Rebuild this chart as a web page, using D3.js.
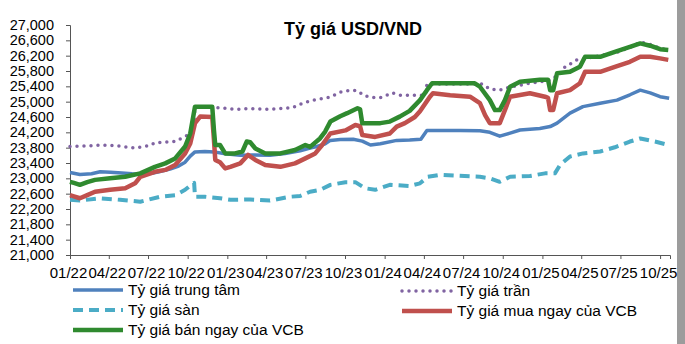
<!DOCTYPE html>
<html>
<head>
<meta charset="utf-8">
<script src="https://cdn.jsdelivr.net/npm/d3@7"></script>
<style>
  body { margin: 0; background: #fff; }
  svg { display: block; font-family: "Liberation Sans", Arial, sans-serif; }
</style>
</head>
<body>
<div id="chart"></div>
<script>
// ---- data ----
var title = "Tỷ giá USD/VND";

var yTicks = [21000, 21400, 21800, 22200, 22600, 23000, 23400, 23800,
              24200, 24600, 25000, 25400, 25800, 26200, 26600, 27000];

var xTicks = ["2022-01-01", "2022-04-01", "2022-07-01", "2022-10-01",
              "2023-01-01", "2023-04-01", "2023-07-01", "2023-10-01",
              "2024-01-01", "2024-04-01", "2024-07-01", "2024-10-01",
              "2025-01-01", "2025-04-01", "2025-07-01", "2025-10-01"];

// Tỷ giá trung tâm
var central = [
  ["2022-01-01", 23150], ["2022-01-24", 23100], ["2022-02-20", 23120], ["2022-03-12", 23170],
  ["2022-04-05", 23160], ["2022-05-01", 23140], ["2022-05-25", 23120], ["2022-06-20", 23110],
  ["2022-07-10", 23130], ["2022-07-29", 23180], ["2022-08-21", 23240], ["2022-09-10", 23320],
  ["2022-09-25", 23420], ["2022-10-07", 23580], ["2022-10-18", 23690], ["2022-11-10", 23700],
  ["2022-12-01", 23690], ["2022-12-27", 23640], ["2023-01-31", 23600], ["2023-03-01", 23610],
  ["2023-04-10", 23600], ["2023-05-15", 23650], ["2023-06-19", 23720], ["2023-07-12", 23790],
  ["2023-07-28", 23830], ["2023-08-16", 23900], ["2023-08-28", 23990], ["2023-09-20", 24010],
  ["2023-10-20", 24020], ["2023-11-10", 23970], ["2023-11-29", 23870], ["2023-12-22", 23900],
  ["2024-01-29", 23990], ["2024-02-28", 24000], ["2024-03-25", 24020], ["2024-04-08", 24250],
  ["2024-05-08", 24250], ["2024-06-24", 24250], ["2024-08-09", 24240], ["2024-09-01", 24200],
  ["2024-09-24", 24100], ["2024-10-18", 24180], ["2024-11-10", 24260], ["2024-12-26", 24300],
  ["2025-01-19", 24350], ["2025-02-04", 24440], ["2025-03-06", 24700], ["2025-04-05", 24870],
  ["2025-05-15", 24960], ["2025-06-23", 25040], ["2025-07-23", 25180], ["2025-08-16", 25300],
  ["2025-09-08", 25230], ["2025-10-01", 25130], ["2025-10-22", 25090]
];

// Tỷ giá trần
var ceiling = [
  ["2022-01-01", 23830], ["2022-02-15", 23850], ["2022-03-12", 23870], ["2022-04-20", 23850],
  ["2022-06-01", 23790], ["2022-07-06", 23860], ["2022-07-17", 23930], ["2022-09-02", 23960],
  ["2022-09-25", 24090], ["2022-10-14", 24200], ["2022-10-18", 24860], ["2022-11-10", 24870],
  ["2022-12-15", 24840], ["2023-01-19", 24800], ["2023-02-23", 24820], ["2023-04-10", 24800],
  ["2023-06-01", 24840], ["2023-06-25", 24960], ["2023-07-19", 25040], ["2023-08-28", 25120],
  ["2023-09-20", 25250], ["2023-10-13", 25300], ["2023-11-01", 25280], ["2023-11-12", 25170],
  ["2023-11-29", 25120], ["2023-12-14", 25095], ["2023-12-28", 25120], ["2024-01-18", 25230],
  ["2024-02-05", 25170], ["2024-03-08", 25170], ["2024-04-05", 25170], ["2024-04-08", 25460],
  ["2024-06-12", 25460], ["2024-08-14", 25460], ["2024-09-01", 25330], ["2024-09-24", 25300],
  ["2024-10-18", 25380], ["2024-12-03", 25480], ["2025-01-19", 25560], ["2025-02-11", 25730],
  ["2025-02-22", 25900], ["2025-03-22", 26090], ["2025-05-15", 26200], ["2025-06-23", 26290],
  ["2025-07-28", 26440], ["2025-08-16", 26560], ["2025-09-08", 26490], ["2025-10-01", 26390],
  ["2025-10-20", 26350]
];

// Tỷ giá sàn
var floorRate = [
  ["2022-01-01", 22440], ["2022-01-24", 22420], ["2022-03-12", 22480], ["2022-04-27", 22440],
  ["2022-06-13", 22390], ["2022-07-29", 22520], ["2022-09-02", 22560], ["2022-09-25", 22700],
  ["2022-10-11", 22850], ["2022-10-16", 22880], ["2022-10-18", 22520], ["2022-11-10", 22520],
  ["2022-12-15", 22480], ["2023-01-08", 22440], ["2023-02-23", 22450], ["2023-04-10", 22420],
  ["2023-05-27", 22520], ["2023-06-19", 22540], ["2023-07-12", 22650], ["2023-08-04", 22700],
  ["2023-08-28", 22830], ["2023-10-02", 22900], ["2023-10-25", 22900], ["2023-11-17", 22740],
  ["2023-12-10", 22700], ["2024-01-13", 22830], ["2024-02-28", 22800], ["2024-03-23", 22870],
  ["2024-04-10", 23040], ["2024-05-08", 23090], ["2024-06-12", 23070], ["2024-08-09", 23040],
  ["2024-09-01", 23000], ["2024-09-24", 22910], ["2024-10-18", 23040], ["2024-12-03", 23060],
  ["2025-01-07", 23130], ["2025-01-30", 23130], ["2025-02-11", 23350], ["2025-03-06", 23570],
  ["2025-04-05", 23650], ["2025-05-15", 23700], ["2025-06-18", 23810], ["2025-07-23", 23960],
  ["2025-08-16", 24040], ["2025-09-19", 23960], ["2025-10-20", 23870]
];

// Tỷ giá mua ngay của VCB
var vcbBuy = [
  ["2022-01-01", 22560], ["2022-01-10", 22530], ["2022-01-24", 22480], ["2022-02-10", 22560],
  ["2022-02-28", 22650], ["2022-04-04", 22700], ["2022-05-09", 22740], ["2022-06-01", 22870],
  ["2022-06-13", 23040], ["2022-07-17", 23170], ["2022-08-10", 23220], ["2022-09-02", 23350],
  ["2022-09-25", 23650], ["2022-10-07", 23910], ["2022-10-18", 24440], ["2022-10-30", 24610],
  ["2022-11-27", 24600], ["2022-12-01", 24000], ["2022-12-04", 23480], ["2022-12-15", 23420],
  ["2022-12-27", 23260], ["2023-01-08", 23300], ["2023-01-31", 23390], ["2023-02-18", 23610],
  ["2023-03-07", 23480], ["2023-03-30", 23350], ["2023-05-04", 23300], ["2023-06-07", 23390],
  ["2023-07-01", 23520], ["2023-07-24", 23650], ["2023-08-09", 23870], ["2023-08-28", 24170],
  ["2023-10-02", 24250], ["2023-10-25", 24390], ["2023-11-05", 24360], ["2023-11-10", 24130],
  ["2023-12-10", 24080], ["2024-01-13", 24170], ["2024-01-29", 24350], ["2024-02-17", 24440],
  ["2024-03-11", 24600], ["2024-03-23", 24750], ["2024-04-15", 25130], ["2024-04-22", 25220],
  ["2024-06-01", 25170], ["2024-07-17", 25130], ["2024-08-09", 24960], ["2024-08-21", 24650],
  ["2024-09-01", 24440], ["2024-09-24", 24440], ["2024-10-06", 24780], ["2024-10-18", 25130],
  ["2024-12-03", 25220], ["2025-01-07", 25130], ["2025-01-14", 25100], ["2025-01-19", 24780],
  ["2025-01-26", 24780], ["2025-02-04", 25220], ["2025-03-06", 25300], ["2025-03-29", 25480],
  ["2025-04-10", 25780], ["2025-05-15", 25780], ["2025-06-18", 25910], ["2025-07-23", 26040],
  ["2025-08-16", 26170], ["2025-09-08", 26170], ["2025-10-01", 26130], ["2025-10-20", 26090]
];

// Tỷ giá bán ngay của VCB
var vcbSell = [
  ["2022-01-01", 22910], ["2022-01-10", 22880], ["2022-01-24", 22830], ["2022-02-10", 22900],
  ["2022-02-28", 22960], ["2022-04-04", 23000], ["2022-05-09", 23040], ["2022-06-13", 23130],
  ["2022-07-17", 23300], ["2022-08-10", 23390], ["2022-09-02", 23520], ["2022-09-25", 23830],
  ["2022-10-07", 24170], ["2022-10-18", 24870], ["2022-11-27", 24870], ["2022-12-01", 24250],
  ["2022-12-04", 23870], ["2022-12-15", 23870], ["2022-12-27", 23650], ["2023-01-19", 23650],
  ["2023-02-05", 23700], ["2023-02-15", 23960], ["2023-02-23", 23940], ["2023-03-07", 23780],
  ["2023-03-30", 23650], ["2023-05-04", 23650], ["2023-06-07", 23740], ["2023-07-01", 23870],
  ["2023-07-12", 23820], ["2023-08-04", 24040], ["2023-08-16", 24220], ["2023-08-28", 24480],
  ["2023-09-20", 24620], ["2023-10-06", 24700], ["2023-10-30", 24830], ["2023-11-05", 24800],
  ["2023-11-10", 24440], ["2023-12-22", 24440], ["2024-01-13", 24480], ["2024-02-05", 24610],
  ["2024-02-28", 24760], ["2024-03-23", 25040], ["2024-04-08", 25300], ["2024-04-20", 25480],
  ["2024-07-28", 25480], ["2024-08-09", 25390], ["2024-09-01", 25040], ["2024-09-13", 24780],
  ["2024-09-24", 24780], ["2024-10-06", 25040], ["2024-10-18", 25390], ["2024-11-10", 25520],
  ["2024-12-26", 25570], ["2025-01-14", 25570], ["2025-01-19", 25300], ["2025-01-26", 25300],
  ["2025-02-04", 25740], ["2025-03-06", 25780], ["2025-03-29", 25910], ["2025-04-10", 26170],
  ["2025-05-15", 26170], ["2025-06-18", 26300], ["2025-07-23", 26430], ["2025-08-16", 26520],
  ["2025-09-08", 26460], ["2025-10-01", 26370], ["2025-10-20", 26350]
];

// ---- layout ----
var W = 685, H = 344;
var plotL = 70, plotR = 670, plotT = 25, plotB = 255;

var parse = d3.timeParse("%Y-%m-%d");

var svg = d3.select("#chart").append("svg")
    .attr("width", W)
    .attr("height", H);

// gray strip at right edge
svg.append("rect")
    .attr("x", 677).attr("y", 0)
    .attr("width", 8).attr("height", H)
    .attr("fill", "#9c9c9c");

var x = d3.scaleTime()
    .domain([parse("2022-01-01"), parse("2025-10-24")])
    .range([plotL, plotR]);
var y = d3.scaleLinear()
    .domain([21000, 27000])
    .range([plotB, plotT]);

// title
svg.append("text")
    .attr("x", 353).attr("y", 35)
    .attr("text-anchor", "middle")
    .attr("font-size", 18)
    .attr("font-weight", "bold")
    .attr("fill", "#000")
    .text(title);

// y axis
var gY = svg.append("g")
    .attr("transform", "translate(" + plotL + ",0)")
    .call(d3.axisLeft(y).tickValues(yTicks).tickFormat(d3.format(",")).tickSize(4).tickPadding(12));
gY.selectAll("text").attr("font-size", 14.5).attr("fill", "#000").attr("font-family", "Liberation Sans, Arial, sans-serif");

// x axis
var gX = svg.append("g")
    .attr("transform", "translate(0," + plotB + ")")
    .call(d3.axisBottom(x).tickValues(xTicks.map(parse)).tickFormat(d3.timeFormat("%m/%y")).tickSize(4).tickPadding(8));
gX.selectAll("text").attr("font-size", 15).attr("fill", "#000").attr("dx", -2).attr("font-family", "Liberation Sans, Arial, sans-serif");

svg.selectAll(".domain, .tick line").attr("stroke", "#555");

// ---- series ----
var line = d3.line()
    .x(d => x(parse(d[0])))
    .y(d => y(d[1]));

var series = [
  { name: "Tỷ giá trung tâm",        data: central,   color: "#4f81bd", width: 3.5, dash: null,   cap: "butt" },
  { name: "Tỷ giá sàn",              data: floorRate, color: "#4bacc6", width: 4,   dash: "10,6", cap: "butt" },
  { name: "Tỷ giá trần",             data: ceiling,   color: "#8064a2", width: 3.5, dash: "0,7",  cap: "round" },
  { name: "Tỷ giá mua ngay của VCB", data: vcbBuy,    color: "#c0504d", width: 4.5, dash: null,   cap: "butt" },
  { name: "Tỷ giá bán ngay của VCB", data: vcbSell,   color: "#2f8a2f", width: 4.5, dash: null,   cap: "butt" }
];

series.forEach(function(s) {
  svg.append("path")
      .datum(s.data)
      .attr("d", line)
      .attr("fill", "none")
      .attr("stroke", s.color)
      .attr("stroke-width", s.width)
      .attr("stroke-linejoin", "round")
      .attr("stroke-linecap", s.cap)
      .attr("stroke-dasharray", s.dash);
});

// ---- legend ----
var legendItems = [
  { s: series[0], lx: 73,  ly: 290 },
  { s: series[2], lx: 402, ly: 291 },
  { s: series[1], lx: 73,  ly: 310 },
  { s: series[3], lx: 402, ly: 311 },
  { s: series[4], lx: 73,  ly: 330 }
];

var lg = svg.selectAll(".legend")
    .data(legendItems)
    .enter().append("g")
    .attr("class", "legend")
    .attr("transform", d => "translate(" + d.lx + "," + d.ly + ")");

lg.append("line")
    .attr("x1", 0).attr("x2", 50)
    .attr("stroke", d => d.s.color)
    .attr("stroke-width", d => d.s.width)
    .attr("stroke-linecap", d => d.s.cap)
    .attr("stroke-dasharray", d => d.s.dash);

lg.append("text")
    .attr("x", 55).attr("y", 5)
    .attr("font-size", 15.5)
    .attr("fill", "#000")
    .text(d => d.s.name);
</script>
</body>
</html>
